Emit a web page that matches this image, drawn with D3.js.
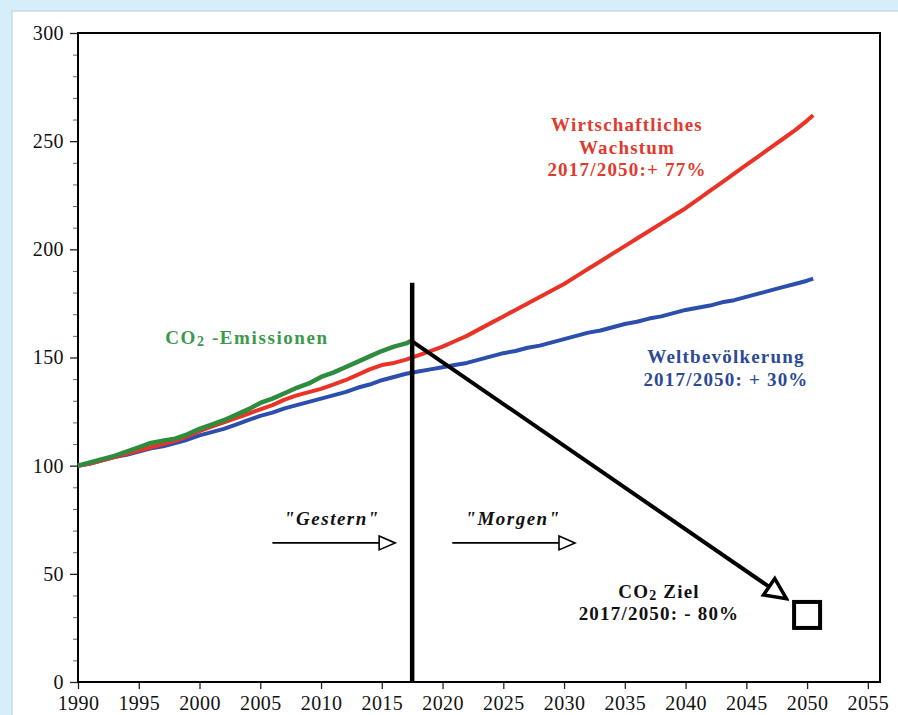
<!DOCTYPE html>
<html>
<head>
<meta charset="utf-8">
<script src="https://cdn.jsdelivr.net/npm/d3@7"></script>
<style>
  html, body { margin: 0; padding: 0; background: #d6eef8; }
  svg { display: block; }
</style>
</head>
<body>
<svg id="chart" width="898" height="715"></svg>
<script>
// ---- data ----
const yearsCO2 = d3.range(1990, 2018).concat([2017.5]);
const co2Values = [100, 101.5, 103, 104.5, 106.5, 108.5, 110.5, 111.5, 112.5, 114.5,
  117, 119, 121, 123.5, 126, 129, 131, 133.5, 136, 138,
  141, 143, 145.5, 148, 150.5, 153, 155, 156.5, 158];

const yearsLong = d3.range(1990, 2051).concat([2050.5]);
const wirtschaftValues = [100, 101, 102.5, 104, 105.5, 107, 108.5, 110, 111.5, 113.5,
  116, 118, 120, 122, 124, 126, 128, 130.5, 132.5, 134,
  135.5, 137.5, 139.5, 142, 144.5, 146.5, 147.5, 149, 151, 153,
  155, 157.5, 160, 163, 166, 169, 172, 175, 178, 181,
  184, 187.5, 191, 194.5, 198, 201.5, 205, 208.5, 212, 215.5,
  219, 223, 227, 231, 235, 239, 243, 247, 251, 255,
  259.5, 262];
const bevoelkerungValues = [100, 101, 102.5, 104, 105, 106.5, 108, 109, 110.5, 112,
  114, 115.5, 117, 119, 121, 123, 124.5, 126.5, 128, 129.5,
  131, 132.5, 134, 136, 137.5, 139.5, 141, 142.5, 143.5, 144.5,
  145.5, 146.5, 147.5, 149, 150.5, 152, 153, 154.5, 155.5, 157,
  158.5, 160, 161.5, 162.5, 164, 165.5, 166.5, 168, 169, 170.5,
  172, 173, 174, 175.5, 176.5, 178, 179.5, 181, 182.5, 184,
  185.5, 186.5];

const xTicks = d3.range(1990, 2056, 5);
const yTicks = d3.range(0, 301, 50);
const yMinorTicks = d3.range(0, 301, 10).filter(v => v % 50 !== 0);

const dividerYear = 2017.5, dividerTop = 184.5;
const pathArrow = { x1: 2017.5, y1: 157.5, x2: 2048.3, y2: 38.5 };
const zielPoint = { year: 2050, value: 31 };
const gesternArrow = { x1: 2006, x2: 2016.1, y: 64.3, label: '"Gestern"', lx: 2010.9, ly: 72.5 };
const morgenArrow = { x1: 2020.8, x2: 2030.9, y: 64.3, label: '"Morgen"', lx: 2025.8, ly: 72.5 };

// ---- layout ----
const svg = d3.select("#chart");
const mLeft = 78, mRight = 880, mTop = 33, mBottom = 682;
const x = d3.scaleLinear().domain([1990, 2056]).range([mLeft, mRight]);
const y = d3.scaleLinear().domain([0, 300]).range([mBottom, mTop]);
const serif = "'Liberation Serif', 'DejaVu Serif', serif";

// background panel
svg.append("rect").attr("x", 0).attr("y", 0).attr("width", 898).attr("height", 715).attr("fill", "#d6eef8");
svg.append("rect").attr("x", 12).attr("y", 11).attr("width", 900).attr("height", 720)
  .attr("fill", "#ffffff").attr("stroke", "#c4dde9").attr("stroke-width", 1.5);

// markers
const defs = svg.append("defs");
defs.append("marker").attr("id", "openHead").attr("viewBox", "0 0 20 20")
  .attr("refX", 18).attr("refY", 10).attr("markerWidth", 20).attr("markerHeight", 20)
  .attr("markerUnits", "userSpaceOnUse").attr("orient", "auto")
  .append("path").attr("d", "M2,3 L18,10 L2,17 Z").attr("fill", "#fff").attr("stroke", "#000").attr("stroke-width", 1.6);
defs.append("marker").attr("id", "bigHead").attr("viewBox", "0 0 30 30")
  .attr("refX", 27).attr("refY", 15).attr("markerWidth", 30).attr("markerHeight", 30)
  .attr("markerUnits", "userSpaceOnUse").attr("orient", "auto")
  .append("path").attr("d", "M6,5 L27,15 L6,25 Z").attr("fill", "#fff").attr("stroke", "#000").attr("stroke-width", 3.5);

// axes
const yAxis = svg.append("g").attr("transform", `translate(${mLeft},0)`)
  .call(d3.axisLeft(y).tickValues(yTicks).tickSize(8).tickPadding(6).tickFormat(d3.format("d")));
const yMinor = svg.append("g").attr("transform", `translate(${mLeft},0)`)
  .call(d3.axisLeft(y).tickValues(yMinorTicks).tickSize(5).tickFormat(""));
const xAxis = svg.append("g").attr("transform", `translate(0,${mBottom})`)
  .call(d3.axisBottom(x).tickValues(xTicks).tickSize(7).tickPadding(7).tickFormat(d3.format("d")));
[yAxis, yMinor, xAxis].forEach(g => {
  g.select(".domain").remove();
  g.selectAll("text").style("font-family", serif).style("font-size", "20px")
    .style("letter-spacing", "0.4px").style("fill", "#111");
  g.selectAll("line").attr("stroke", "#222").attr("stroke-width", 1.3);
});
yMinor.selectAll("line").attr("stroke", "#666").attr("stroke-width", 1);

// frame
svg.append("rect").attr("x", mLeft).attr("y", mTop).attr("width", mRight - mLeft).attr("height", mBottom - mTop)
  .attr("fill", "none").attr("stroke", "#000").attr("stroke-width", 2);

// lines
const line = d3.line().x(d => x(d[0])).y(d => y(d[1]));
svg.append("path").datum(yearsLong.map((yr, i) => [yr, bevoelkerungValues[i]]))
  .attr("d", line).attr("fill", "none").attr("stroke", "#2c4fae").attr("stroke-width", 4).attr("stroke-linejoin", "round");
svg.append("path").datum(yearsLong.map((yr, i) => [yr, wirtschaftValues[i]]))
  .attr("d", line).attr("fill", "none").attr("stroke", "#ea3326").attr("stroke-width", 4).attr("stroke-linejoin", "round");
svg.append("path").datum(yearsCO2.map((yr, i) => [yr, co2Values[i]]))
  .attr("d", line).attr("fill", "none").attr("stroke", "#2e8c3e").attr("stroke-width", 4.5).attr("stroke-linejoin", "round");

// divider
svg.append("line").attr("x1", x(dividerYear)).attr("x2", x(dividerYear))
  .attr("y1", y(dividerTop)).attr("y2", y(0)).attr("stroke", "#000").attr("stroke-width", 4.5);

// diagonal arrow
svg.append("line").attr("x1", x(pathArrow.x1)).attr("y1", y(pathArrow.y1))
  .attr("x2", x(pathArrow.x2)).attr("y2", y(pathArrow.y2))
  .attr("stroke", "#000").attr("stroke-width", 4).attr("marker-end", "url(#bigHead)");

// target square
svg.append("rect").attr("x", x(zielPoint.year) - 13).attr("y", y(zielPoint.value) - 13)
  .attr("width", 26).attr("height", 26).attr("fill", "none").attr("stroke", "#000").attr("stroke-width", 4);

// gestern / morgen arrows
[gesternArrow, morgenArrow].forEach(a => {
  svg.append("line").attr("x1", x(a.x1)).attr("x2", x(a.x2)).attr("y1", y(a.y)).attr("y2", y(a.y))
    .attr("stroke", "#000").attr("stroke-width", 1.6).attr("marker-end", "url(#openHead)");
  svg.append("text").attr("x", x(a.lx)).attr("y", y(a.ly)).attr("text-anchor", "middle")
    .style("font-family", serif).style("font-size", "19px").style("letter-spacing", "1.5px")
    .attr("font-weight", "bold").attr("font-style", "italic")
    .attr("fill", "#111").text(a.label);
});

// labels
function multi(lines, cx, cy, lh, color, size, ls) {
  const t = svg.append("text").attr("text-anchor", "middle").style("font-family", serif)
    .style("font-size", size + "px").style("letter-spacing", ls + "px").attr("font-weight", "bold").attr("fill", color);
  lines.forEach((l, i) => {
    const ts = t.append("tspan").attr("x", cx).attr("y", cy + i * lh);
    if (typeof l === "string") ts.text(l);
    else l.forEach(p => {
      const s = ts.append("tspan").text(p.t);
      if (p.size) s.style("font-size", p.size + "px");
      if (p.dy) s.attr("dy", p.dy);
    });
  });
}
multi([[{t: "CO"}, {t: "2", size: 14, dy: 2}, {t: " -Emissionen", dy: -2}]], 247, 344, 22, "#3a9a4a", 19, 1.6);
multi(["Wirtschaftliches", "Wachstum", "2017/2050:+ 77%"], 627, 131, 22.5, "#e2392d", 19, 1.2);
multi(["Weltbevölkerung", "2017/2050: + 30%"], 726, 363, 22.5, "#2c4a96", 19, 1.2);
multi([[{t: "CO"}, {t: "2", size: 14, dy: 2}, {t: "  Ziel", dy: -2}], "2017/2050: - 80%"], 659, 598, 21.5, "#111", 19, 1.2);
</script>
</body>
</html>
